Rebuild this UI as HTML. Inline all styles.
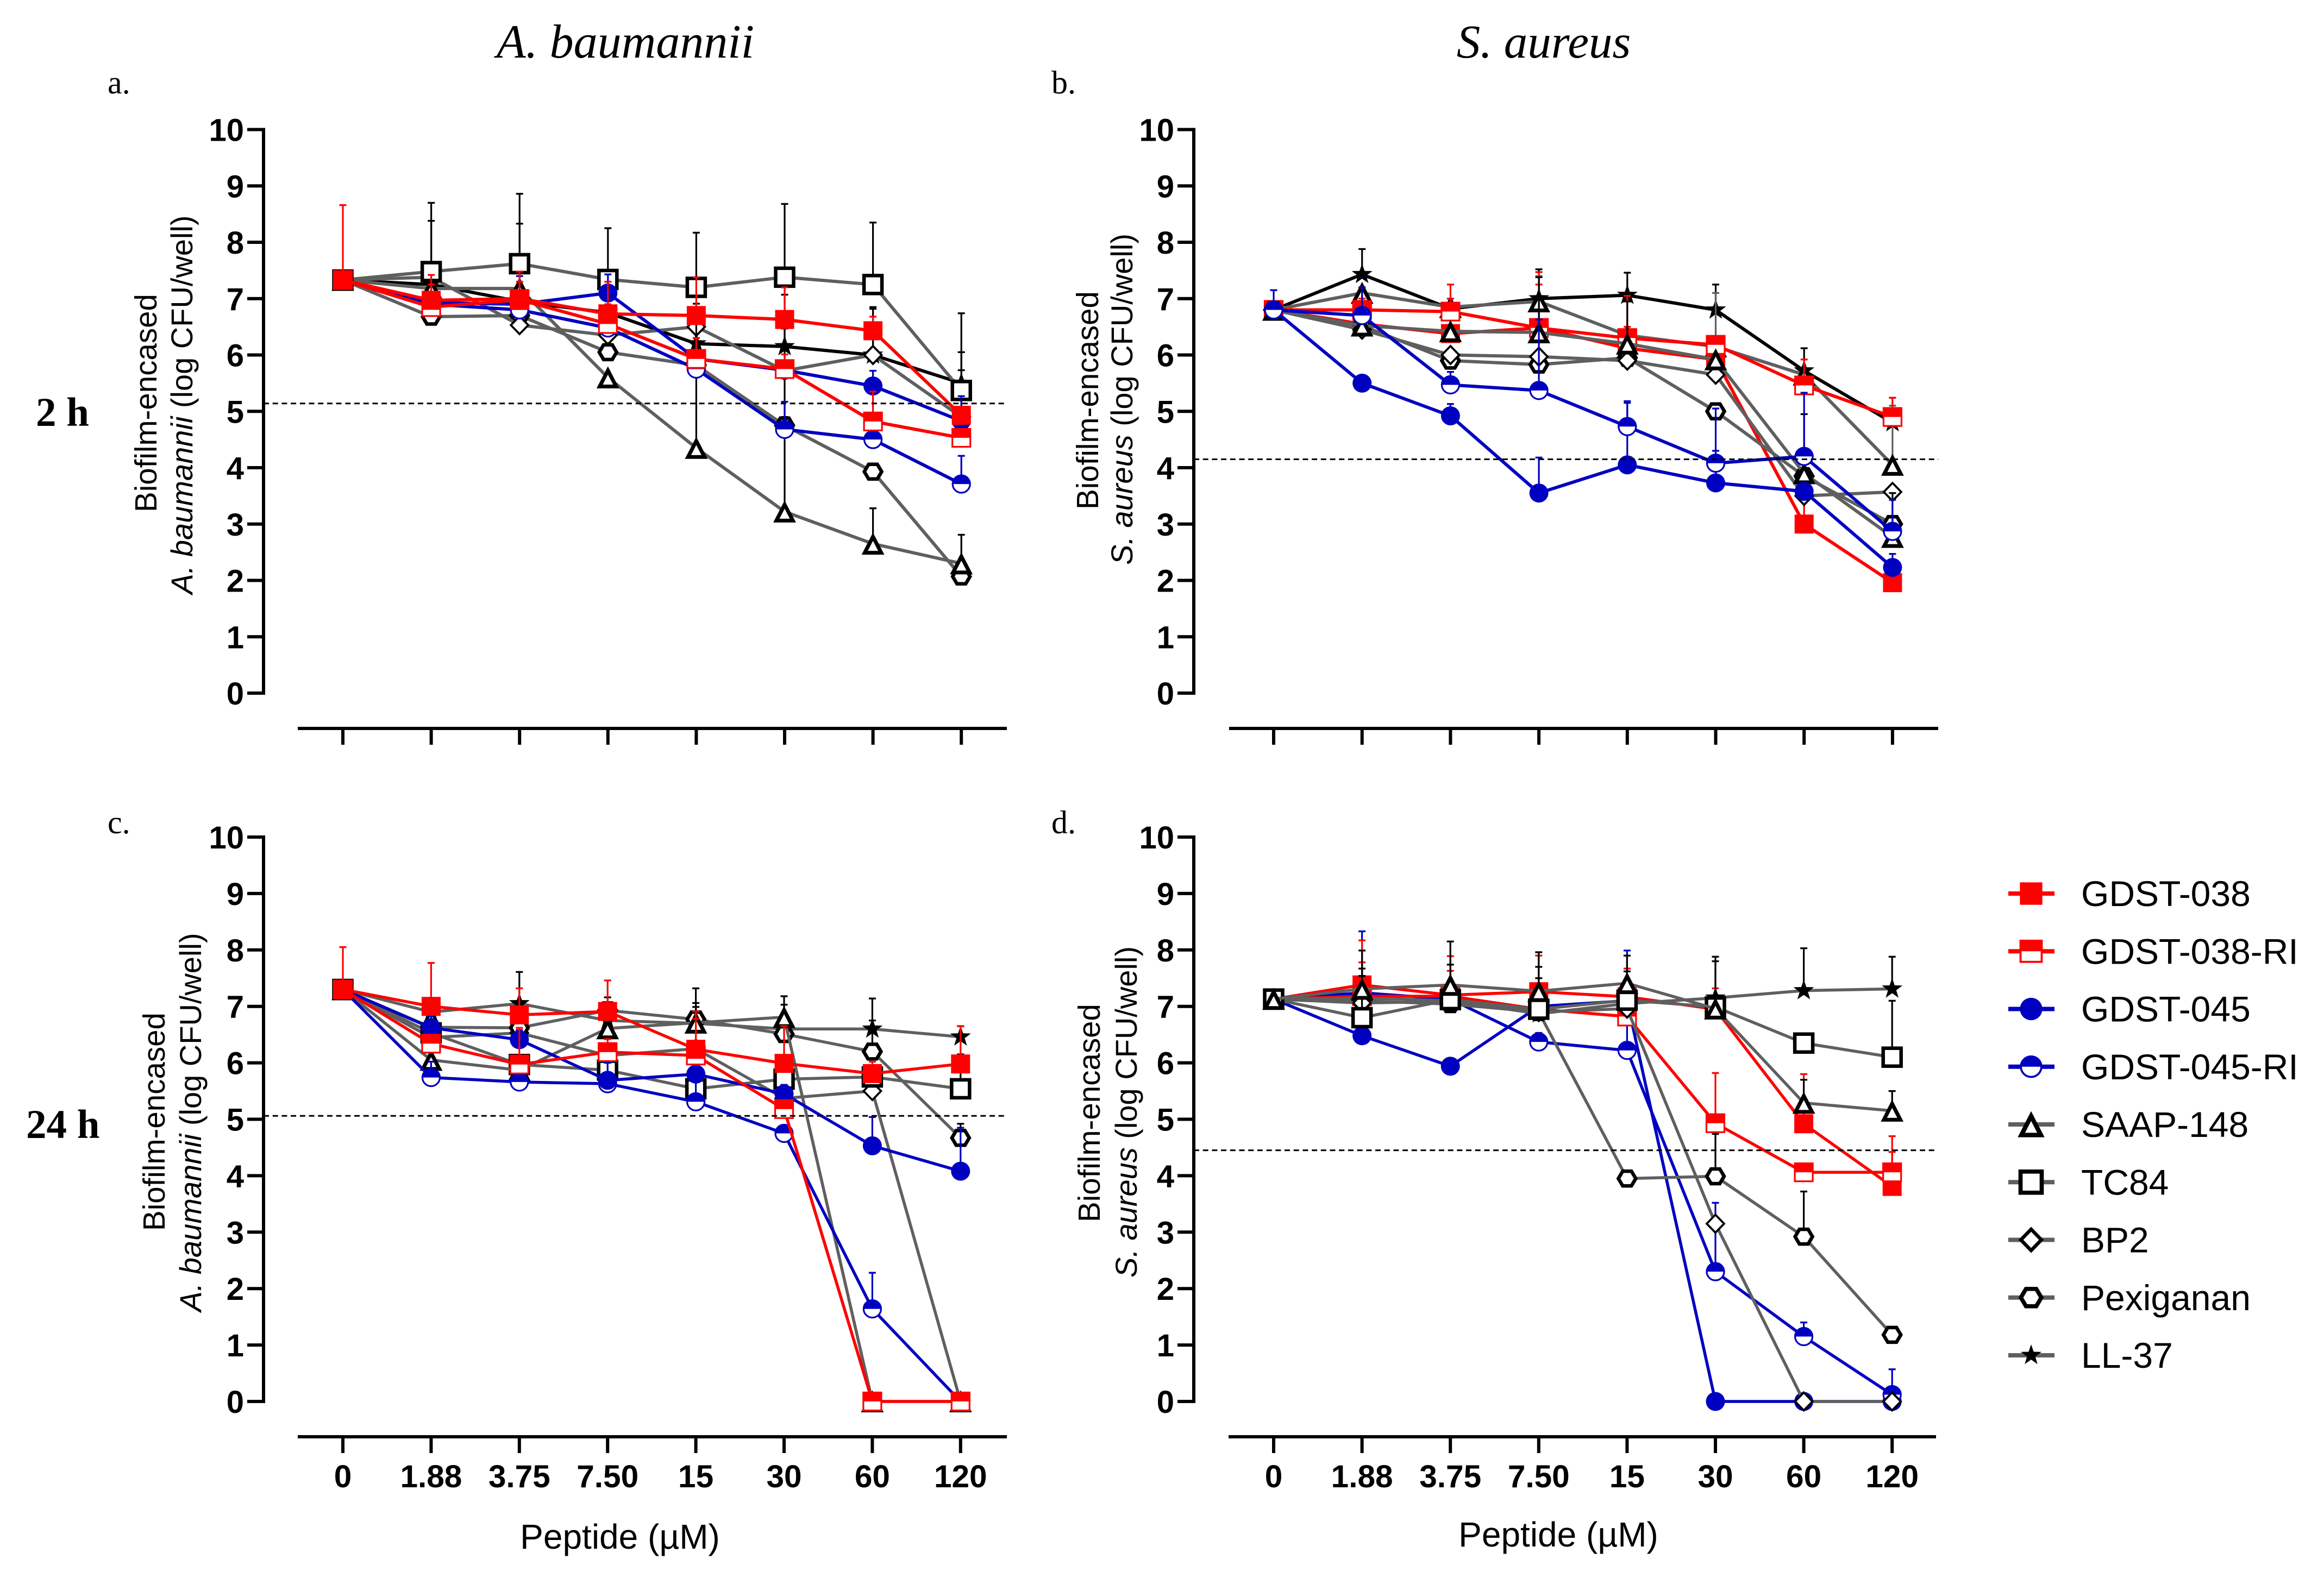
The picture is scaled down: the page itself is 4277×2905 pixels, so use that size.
<!DOCTYPE html>
<html lang="en">
<head>
<meta charset="utf-8">
<title>Biofilm-encased bacteria vs peptide concentration</title>
<style>
html,body{margin:0;padding:0;background:#fff;}
svg{display:block;}
text{font-family:"Liberation Sans",Arial,sans-serif;fill:#000;white-space:pre;}
.serif{font-family:"Liberation Serif","Times New Roman",serif;}
</style>
</head>
<body>
<svg id="figure" xmlns="http://www.w3.org/2000/svg" width="4277" height="2905" viewBox="0 0 4277 2905">
  <rect x="0" y="0" width="4277" height="2905" fill="#fff"/>
  <text class="serif" x="1151" y="106" font-size="88" font-style="italic" text-anchor="middle">A. baumannii</text>
  <text class="serif" x="2841" y="106" font-size="87" font-style="italic" text-anchor="middle">S. aureus</text>
  <text class="serif" x="198" y="172" font-size="60">a.</text>
  <text class="serif" x="1935" y="172" font-size="60">b.</text>
  <text class="serif" x="198" y="1534" font-size="60">c.</text>
  <text class="serif" x="1935" y="1534" font-size="60">d.</text>
  <text class="serif" x="66" y="784" font-size="75" font-weight="bold">2 h</text>
  <text class="serif" x="48" y="2095" font-size="75" font-weight="bold">24 h</text>

  <g>
    <text transform="rotate(-90 288 742)" x="288" y="742" font-size="56.5" text-anchor="middle">Biofilm-encased</text>
    <text transform="rotate(-90 354 745)" x="354" y="745" font-size="56" text-anchor="middle"><tspan font-style="italic">A. baumannii</tspan> (log CFU/well)</text>
  </g>
  <g>
    <text transform="rotate(-90 2021 737)" x="2021" y="737" font-size="56.5" text-anchor="middle">Biofilm-encased</text>
    <text transform="rotate(-90 2084 735)" x="2084" y="735" font-size="56" text-anchor="middle"><tspan font-style="italic">S. aureus</tspan> (log CFU/well)</text>
  </g>
  <g>
    <text transform="rotate(-90 303 2065)" x="303" y="2065" font-size="56.5" text-anchor="middle">Biofilm-encased</text>
    <text transform="rotate(-90 370 2066)" x="370" y="2066" font-size="56" text-anchor="middle"><tspan font-style="italic">A. baumannii</tspan> (log CFU/well)</text>
  </g>
  <g>
    <text transform="rotate(-90 2024 2049)" x="2024" y="2049" font-size="56.5" text-anchor="middle">Biofilm-encased</text>
    <text transform="rotate(-90 2092 2047)" x="2092" y="2047" font-size="56" text-anchor="middle"><tspan font-style="italic">S. aureus</tspan> (log CFU/well)</text>
  </g>
  <text x="1141" y="2851" font-size="64" text-anchor="middle">Peptide (µM)</text>
  <text x="2868" y="2847" font-size="64" text-anchor="middle">Peptide (µM)</text>
  <g id="panels"></g>
  <g id="legend"></g>
</svg>
<script>
// Shared axis data
const categories = ['0','1.88','3.75','7.50','15','30','60','120'];
const yTickValues = [0,1,2,3,4,5,6,7,8,9,10];
const legendNames = ['GDST-038','GDST-038-RI','GDST-045','GDST-045-RI','SAAP-148','TC84','BP2','Pexiganan','LL-37'];
const thresholdA = 5.14;
const thresholdB = 4.15;
const thresholdC = 5.06;
const thresholdD = 4.45;

// Panel a: A. baumannii, 2 h (means, then upper error-bar ends)
const aG38  = [7.33,6.97,7.00,6.73,6.70,6.63,6.43,4.93];
const aG38R = [7.33,6.85,6.98,6.55,5.93,5.75,4.82,4.53];
const aG45  = [7.33,6.93,6.90,7.10,5.93,5.73,5.45,4.83];
const aG45R = [7.33,6.90,6.80,6.48,5.75,4.68,4.50,3.71];
const aSAAP = [7.33,7.18,7.18,5.60,4.35,3.22,2.65,2.30];
const aTC84 = [7.33,7.48,7.62,7.34,7.20,7.38,7.25,5.37];
const aBP2  = [7.33,7.38,6.53,6.35,6.50,5.72,6.00,4.90];
const aPEX  = [7.33,6.68,6.70,6.05,5.82,4.75,3.93,2.07];
const aLL37 = [7.33,7.25,6.95,6.75,6.20,6.15,6.00,5.50];
const aG38Up  = [8.66,7.42,7.48,7.30,7.38,7.20,6.68,null];
const aG38RUp = [null,7.25,7.30,6.90,6.30,6.01,5.35,4.60];
const aG45Up  = [null,null,7.40,7.43,null,null,5.72,5.27];
const aG45RUp = [null,null,null,null,6.30,5.17,4.60,4.21];
const aSAAPUp = [null,null,null,null,6.91,6.47,3.28,2.81];
const aTC84Up = [null,8.70,8.86,8.25,8.17,8.68,8.35,6.74];
const aBP2Up  = [null,8.38,8.33,null,null,null,6.85,6.05];
const aPEXUp  = [null,null,null,null,null,4.90,null,null];
const aLL37Up = [null,null,null,null,null,7.07,6.82,5.73];

// Panel b: S. aureus, 2 h
const bG38  = [6.80,6.55,6.38,6.48,6.12,5.92,3.00,1.96];
const bG38R = [6.80,6.80,6.77,6.48,6.30,6.18,5.46,4.90];
const bG45  = [6.80,5.50,4.92,3.55,4.05,3.73,3.58,2.23];
const bG45R = [6.80,6.70,5.47,5.37,4.73,4.08,4.20,2.87];
const bSAAP = [6.80,6.52,6.42,6.40,6.20,5.92,3.90,2.77];
const bTC84 = [6.80,7.10,6.85,6.95,6.35,6.15,5.65,4.05];
const bBP2  = [6.80,6.45,6.00,5.97,5.90,5.65,3.50,3.57];
const bPEX  = [6.80,6.52,5.90,5.83,5.95,5.00,3.85,3.00];
const bLL37 = [6.80,7.43,6.82,7.00,7.06,6.80,5.72,4.80];
const bG38Up  = [null,7.00,7.00,7.25,6.50,null,3.40,null];
const bG38RUp = [null,7.20,7.25,7.47,7.05,null,5.92,5.24];
const bG45Up  = [null,null,5.13,4.18,5.15,4.30,null,2.47];
const bG45RUp = [7.15,7.20,5.70,6.63,5.18,5.05,5.33,3.43];
const bSAAPUp = [null,null,null,7.38,6.95,null,4.95,3.55];
const bTC84Up = [null,null,7.00,7.40,null,7.10,null,5.10];
const bBP2Up  = [null,null,null,null,null,null,null,null];
const bPEXUp  = [null,null,null,null,null,null,null,null];
const bLL37Up = [null,7.88,null,7.52,7.46,7.25,6.12,5.24];

// Panel c: A. baumannii, 24 h
const cG38  = [7.30,7.00,6.85,6.91,6.24,5.99,5.81,5.98];
const cG38R = [7.30,6.34,5.97,6.19,6.13,5.18,0.00,0.00];
const cG45  = [7.30,6.62,6.41,5.69,5.80,5.45,4.53,4.08];
const cG45R = [7.30,5.74,5.66,5.63,5.31,4.75,1.64,0.00];
const cSAAP = [7.30,6.05,5.87,6.61,6.71,6.81,0.00,0.00];
const cTC84 = [7.30,6.53,5.97,5.87,5.54,5.71,5.75,5.54];
const cBP2  = [7.30,6.45,6.53,6.13,6.25,5.37,5.50,0.00];
const cPEX  = [7.30,6.63,6.62,6.93,6.77,6.51,6.20,4.67];
const cLL37 = [7.30,6.90,7.05,6.75,6.70,6.60,6.60,6.46];
const cG38Up  = [8.05,7.77,7.32,7.46,6.91,6.65,6.02,6.65];
const cG38RUp = [null,null,6.62,6.42,6.78,null,null,null];
const cG45Up  = [null,6.83,6.58,null,null,5.61,5.04,4.85];
const cG45RUp = [null,6.02,null,6.00,5.85,null,2.28,null];
const cSAAPUp = [null,null,null,null,7.06,7.03,null,null];
const cTC84Up = [null,null,null,null,null,null,null,6.15];
const cBP2Up  = [null,null,null,null,null,null,null,null];
const cPEXUp  = [null,null,null,7.16,6.99,null,6.75,4.92];
const cLL37Up = [null,null,7.61,null,7.32,7.18,7.14,6.65];

// Panel d: S. aureus, 24 h
const dG38  = [7.13,7.38,7.20,7.26,7.17,6.95,4.92,3.81];
const dG38R = [7.13,7.18,7.18,6.95,6.82,4.93,4.06,4.06];
const dG45  = [7.13,6.48,5.94,7.00,7.10,0.00,0.00,0.00];
const dG45R = [7.13,7.24,7.13,6.37,6.22,2.30,1.15,0.12];
const dSAAP = [7.13,7.31,7.38,7.27,7.41,6.96,5.29,5.15];
const dTC84 = [7.13,6.80,7.12,6.95,7.11,6.99,6.35,6.10];
const dBP2  = [7.13,7.06,7.09,6.90,6.96,3.15,0.00,0.00];
const dPEX  = [7.13,7.10,7.04,6.90,3.95,3.99,2.92,1.18];
const dLL37 = [7.13,7.15,7.10,6.87,7.05,7.15,7.28,7.31];
const dG38Up  = [null,8.17,7.89,7.90,7.67,7.32,5.80,4.42];
const dG38RUp = [null,7.78,7.63,null,null,5.82,4.20,4.70];
const dG45Up  = [null,null,null,null,null,null,null,null];
const dG45RUp = [null,8.33,null,6.53,7.99,3.52,1.40,0.57];
const dSAAPUp = [null,7.67,7.74,7.70,7.62,null,5.70,5.50];
const dTC84Up = [null,7.54,null,7.50,7.90,7.80,null,7.10];
const dBP2Up  = [null,null,null,null,null,null,null,null];
const dPEXUp  = [null,null,null,null,null,4.74,3.72,null];
const dLL37Up = [null,7.99,8.15,7.96,null,7.88,8.03,7.88];

const NS = 'http://www.w3.org/2000/svg';
const RED = '#ff0000', BLUE = '#0000c0', GRAY = '#5f5f5f', BLACK = '#000000';

function svgEl(tag, attrs, parent) {
  const el = document.createElementNS(NS, tag);
  for (const k in attrs) el.setAttribute(k, attrs[k]);
  parent.appendChild(el);
  return el;
}
function slug(s) { return s.toLowerCase().replace(/[^a-z0-9]+/g, '-'); }

function drawMarker(kind, cx, cy, parent, scale, diamondStroke) {
  const s = scale || 1;
  const g = svgEl('g', {}, parent);
  
  
  if (kind === 'square-filled') {
    svgEl('rect', {x: cx-17.5*s, y: cy-17.5*s, width: 35*s, height: 35*s, fill: RED}, g);
  } else if (kind === 'square-half') {
    svgEl('rect', {x: cx-16.5*s, y: cy-16.5*s, width: 33*s, height: 33*s, fill: '#fff', stroke: RED, 'stroke-width': 3.2*s}, g);
    svgEl('rect', {x: cx-18*s, y: cy-18*s, width: 36*s, height: 18*s, fill: RED}, g);
  } else if (kind === 'circle-filled') {
    svgEl('circle', {cx: cx, cy: cy, r: 17.5*s, fill: BLUE}, g);
  } else if (kind === 'circle-half') {
    svgEl('circle', {cx: cx, cy: cy, r: 16*s, fill: '#fff', stroke: BLUE, 'stroke-width': 3.2*s}, g);
    svgEl('path', {d: 'M' + (cx-17.5*s) + ' ' + cy + 'A' + 17.5*s + ' ' + 17.5*s + ' 0 0 1 ' + (cx+17.5*s) + ' ' + cy + 'Z', fill: BLUE}, g);
  } else if (kind === 'triangle') {
    const p = [[cx, cy-13*s],[cx+15.2*s, cy+16.5*s],[cx-15.2*s, cy+16.5*s]].map(q => q.join(',')).join(' ');
    svgEl('polygon', {points: p, fill: '#fff', stroke: BLACK, 'stroke-width': 7*s, 'stroke-linejoin': 'miter', 'stroke-miterlimit': 10}, g);
  } else if (kind === 'open-square') {
    svgEl('rect', {x: cx-16.5*s, y: cy-16.5*s, width: 33*s, height: 33*s, fill: '#fff', stroke: BLACK, 'stroke-width': 6.5*s}, g);
  } else if (kind === 'diamond') {
    const p = [[cx, cy-16.5*s],[cx+16*s, cy],[cx, cy+16.5*s],[cx-16*s, cy]].map(q => q.join(',')).join(' ');
    svgEl('polygon', {points: p, fill: '#fff', stroke: BLACK, 'stroke-width': diamondStroke || 3.8*s}, g);
  } else if (kind === 'hexagon') {
    const p = [[cx-8*s, cy-13.5*s],[cx+8*s, cy-13.5*s],[cx+16*s, cy],[cx+8*s, cy+13.5*s],[cx-8*s, cy+13.5*s],[cx-16*s, cy]].map(q => q.join(',')).join(' ');
    svgEl('polygon', {points: p, fill: '#fff', stroke: BLACK, 'stroke-width': 6.5*s}, g);
  } else if (kind === 'star') {
    const pts = [];
    for (let i = 0; i < 10; i++) {
      const r = (i % 2 === 0 ? 20 : 8) * s;
      const a = -Math.PI / 2 + i * Math.PI / 5;
      pts.push((cx + r * Math.cos(a)).toFixed(1) + ',' + (cy + r * Math.sin(a)).toFixed(1));
    }
    svgEl('polygon', {points: pts.join(' '), fill: BLACK}, g);
  }
}

function drawPanel(cfg) {
  const root = document.getElementById('panels');
  const panel = svgEl('g', {}, root);
  
  
  const xScale = i => cfg.x0 + i * cfg.dx;
  const yScale = v => cfg.y0 - v * cfg.unit;

  // y axis
  const yAxis = svgEl('g', {}, panel);
  
  
  svgEl('line', {x1: cfg.axisX, x2: cfg.axisX, y1: yScale(10)-3, y2: yScale(0)+3, stroke: BLACK, 'stroke-width': 6}, yAxis);
  yTickValues.forEach(v => {
    svgEl('line', {x1: cfg.axisX-30, x2: cfg.axisX, y1: yScale(v), y2: yScale(v), stroke: BLACK, 'stroke-width': 6}, yAxis);
    const t = svgEl('text', {x: cfg.axisX-36, y: yScale(v)+21, 'font-size': 58, 'font-weight': 'bold', 'text-anchor': 'end'}, yAxis);
    t.textContent = String(v);
  });

  // x axis
  const xAxis = svgEl('g', {}, panel);
  
  
  svgEl('line', {x1: cfg.lineFrom, x2: cfg.lineTo, y1: cfg.lineY, y2: cfg.lineY, stroke: BLACK, 'stroke-width': 6}, xAxis);
  categories.forEach((c, i) => {
    svgEl('line', {x1: xScale(i), x2: xScale(i), y1: cfg.lineY, y2: cfg.lineY+30, stroke: BLACK, 'stroke-width': 6}, xAxis);
    if (cfg.labels) {
      const t = svgEl('text', {x: xScale(i), y: cfg.lineY+93, 'font-size': 58.5, 'font-weight': 'bold', 'text-anchor': 'middle'}, xAxis);
      t.textContent = c;
    }
  });

  // series
  cfg.series.forEach(s => {
    const g = svgEl('g', {}, panel);
    
    
    s.upper.forEach((u, i) => {
      if (u === null) return;
      const x = xScale(i);
      svgEl('line', {x1: x, x2: x, y1: yScale(s.values[i]), y2: yScale(u), stroke: s.errColor, 'stroke-width': 3.2}, g);
      svgEl('line', {x1: x-6.5, x2: x+6.5, y1: yScale(u), y2: yScale(u), stroke: s.errColor, 'stroke-width': 3.3}, g);
    });
    const pts = s.values.map((v, i) => xScale(i) + ',' + yScale(v)).join(' ');
    svgEl('polyline', {points: pts, fill: 'none', stroke: s.color, 'stroke-width': cfg.lineWidth, 'stroke-linejoin': 'round'}, g);
    s.values.forEach((v, i) => drawMarker(s.marker, xScale(i), yScale(v), g));
  });

  // threshold
  const th = svgEl('line', {x1: cfg.axisX, x2: cfg.lineTo, y1: yScale(cfg.threshold), y2: yScale(cfg.threshold), stroke: BLACK, 'stroke-width': 3, 'stroke-dasharray': '10 6.7'}, panel);
  
  
}

function S(name, values, upper, color, errColor, marker) {
  return {name: name, values: values, upper: upper, color: color, errColor: errColor, marker: marker};
}

drawPanel({
  id: 'a', x0: 631, dx: 162.6, y0: 1276, unit: 103.75, axisX: 485, lineY: 1341, lineFrom: 548, lineTo: 1853, labels: false, threshold: thresholdA, lineWidth: 6,
  series: [
    S('LL-37', aLL37, aLL37Up, BLACK, BLACK, 'star'),
    S('Pexiganan', aPEX, aPEXUp, GRAY, BLACK, 'hexagon'),
    S('BP2', aBP2, aBP2Up, GRAY, BLACK, 'diamond'),
    S('SAAP-148', aSAAP, aSAAPUp, GRAY, BLACK, 'triangle'),
    S('TC84', aTC84, aTC84Up, GRAY, BLACK, 'open-square'),
    S('GDST-045', aG45, aG45Up, BLUE, BLUE, 'circle-filled'),
    S('GDST-045-RI', aG45R, aG45RUp, BLUE, BLUE, 'circle-half'),
    S('GDST-038-RI', aG38R, aG38RUp, RED, RED, 'square-half'),
    S('GDST-038', aG38, aG38Up, RED, RED, 'square-filled')
  ]
});
drawPanel({
  id: 'b', x0: 2344, dx: 162.7, y0: 1276, unit: 103.75, axisX: 2197, lineY: 1341, lineFrom: 2262, lineTo: 3567, labels: false, threshold: thresholdB, lineWidth: 6,
  series: [
    S('LL-37', bLL37, bLL37Up, BLACK, BLACK, 'star'),
    S('TC84', bTC84, bTC84Up, GRAY, '#5f5f5f', 'triangle'),
    S('GDST-038', bG38, bG38Up, RED, RED, 'square-filled'),
    S('GDST-038-RI', bG38R, bG38RUp, RED, RED, 'square-half'),
    S('Pexiganan', bPEX, bPEXUp, GRAY, BLACK, 'hexagon'),
    S('BP2', bBP2, bBP2Up, GRAY, BLACK, 'diamond'),
    S('SAAP-148', bSAAP, bSAAPUp, GRAY, BLACK, 'triangle'),
    S('GDST-045', bG45, bG45Up, BLUE, BLUE, 'circle-filled'),
    S('GDST-045-RI', bG45R, bG45RUp, BLUE, BLUE, 'circle-half')
  ]
});
drawPanel({
  id: 'c', x0: 631, dx: 162.4, y0: 2580, unit: 103.9, axisX: 485, lineY: 2645, lineFrom: 548, lineTo: 1853, labels: true, threshold: thresholdC, lineWidth: 5.5,
  series: [
    S('LL-37', cLL37, cLL37Up, GRAY, BLACK, 'star'),
    S('BP2', cBP2, cBP2Up, GRAY, BLACK, 'diamond'),
    S('Pexiganan', cPEX, cPEXUp, GRAY, BLACK, 'hexagon'),
    S('TC84', cTC84, cTC84Up, GRAY, BLACK, 'open-square'),
    S('SAAP-148', cSAAP, cSAAPUp, GRAY, BLACK, 'triangle'),
    S('GDST-045-RI', cG45R, cG45RUp, BLUE, BLUE, 'circle-half'),
    S('GDST-045', cG45, cG45Up, BLUE, BLUE, 'circle-filled'),
    S('GDST-038-RI', cG38R, cG38RUp, RED, RED, 'square-half'),
    S('GDST-038', cG38, cG38Up, RED, RED, 'square-filled')
  ]
});
drawPanel({
  id: 'd', x0: 2344, dx: 162.6, y0: 2580, unit: 103.9, axisX: 2197, lineY: 2645, lineFrom: 2261, lineTo: 3563, labels: true, threshold: thresholdD, lineWidth: 5.5,
  series: [
    S('GDST-045', dG45, dG45Up, BLUE, BLUE, 'circle-filled'),
    S('GDST-045-RI', dG45R, dG45RUp, BLUE, BLUE, 'circle-half'),
    S('GDST-038', dG38, dG38Up, RED, RED, 'square-filled'),
    S('GDST-038-RI', dG38R, dG38RUp, RED, RED, 'square-half'),
    S('LL-37', dLL37, dLL37Up, GRAY, BLACK, 'star'),
    S('Pexiganan', dPEX, dPEXUp, GRAY, BLACK, 'hexagon'),
    S('BP2', dBP2, dBP2Up, GRAY, BLACK, 'diamond'),
    S('TC84', dTC84, dTC84Up, GRAY, BLACK, 'open-square'),
    S('SAAP-148', dSAAP, dSAAPUp, GRAY, BLACK, 'triangle')
  ]
});

// Legend
const legendMarkers = ['square-filled','square-half','circle-filled','circle-half','triangle','open-square','diamond','hexagon','star'];
const legendColors = [RED,RED,BLUE,BLUE,GRAY,GRAY,GRAY,GRAY,GRAY];
const legendRoot = document.getElementById('legend');
legendNames.forEach((name, i) => {
  const y = 1645 + i * 106.25;
  const g = svgEl('g', {}, legendRoot);
  
  
  svgEl('line', {x1: 3696, x2: 3781, y1: y, y2: y, stroke: legendColors[i], 'stroke-width': 8}, g);
  drawMarker(legendMarkers[i], 3738, y, g, legendMarkers[i] === 'star' ? 1 : 1.18, legendMarkers[i] === 'diamond' ? 6.5 : 0);
  const t = svgEl('text', {x: 3830, y: y+23, 'font-size': 66}, g);
  t.textContent = name;
});
</script>
</body>
</html>
